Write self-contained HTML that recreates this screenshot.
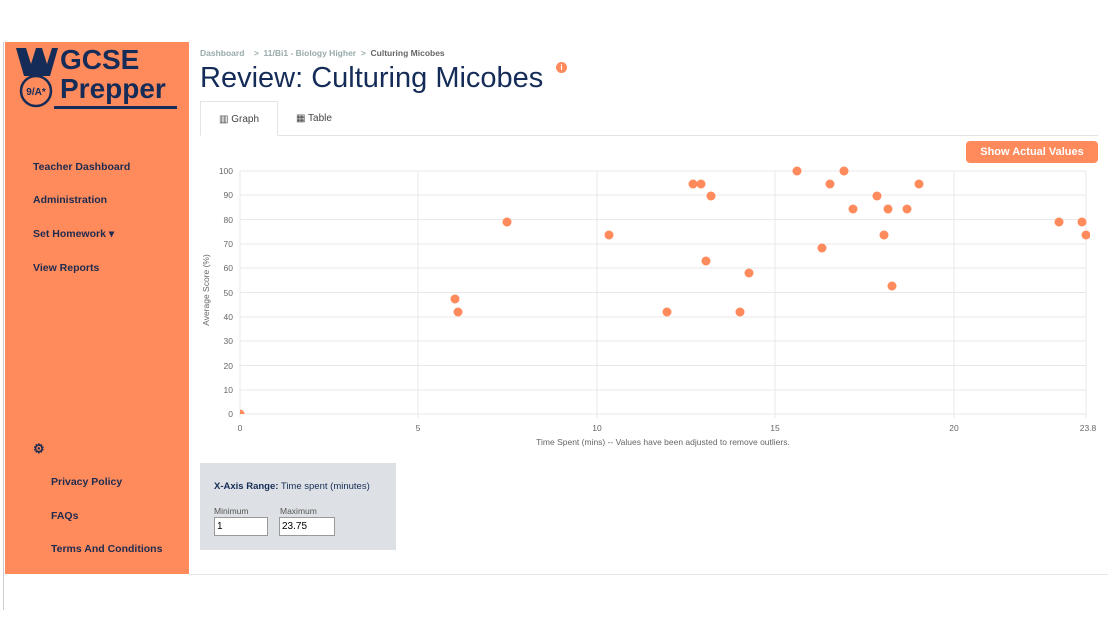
<!DOCTYPE html><html><head><style>
body{margin:0;width:1108px;height:617px;background:#fff;font-family:"Liberation Sans",sans-serif;position:relative;overflow:hidden}
.a{position:absolute}
.side{left:5px;top:42px;width:184px;height:532px;background:#ff8a5b}
.nav{font-size:10.5px;color:#1d2b4f;font-weight:bold}
.navy{color:#142c57}
</style></head><body>
<div class="a" style="left:3px;top:42px;width:1px;height:568px;background:#ccc"></div>
<div class="a side"></div>
<div class="a" style="left:189px;top:574px;width:919px;height:1px;background:#e6e6e6"></div>
<svg class="a" style="left:14px;top:46px" width="45" height="64"><polygon points="2,2 12,2 17,18 22,2 28,2 33,18 38,2 44,2 36,30 10,30" fill="#142c57"/><circle cx="22" cy="45" r="15" fill="none" stroke="#142c57" stroke-width="2.5"/><text x="22" y="49" font-size="10" font-weight="bold" text-anchor="middle" fill="#142c57">9/A*</text></svg>
<div class="a navy" style="left:60px;top:45px;font-size:28px;font-weight:bold;line-height:29px">GCSE<br>Prepper</div>
<div class="a" style="left:54px;top:106px;width:123px;height:3px;background:#142c57"></div>
<div class="a nav" style="left:33px;top:161px">Teacher Dashboard</div>
<div class="a nav" style="left:33px;top:194px">Administration</div>
<div class="a nav" style="left:33px;top:228px">Set Homework ▾</div>
<div class="a nav" style="left:33px;top:262px">View Reports</div>
<div class="a nav" style="left:33px;top:441px;font-size:13px">⚙</div>
<div class="a nav" style="left:51px;top:476px">Privacy Policy</div>
<div class="a nav" style="left:51px;top:510px">FAQs</div>
<div class="a nav" style="left:51px;top:543px">Terms And Conditions</div>
<div class="a" style="left:200px;top:48px;font-size:8.5px;color:#9aa;font-weight:bold">Dashboard &nbsp;&nbsp;&nbsp;&gt; &nbsp;11/Bi1 - Biology Higher &nbsp;&gt; &nbsp;<span style="color:#666">Culturing Micobes</span></div>
<div class="a navy" style="left:200px;top:62px;font-size:29px">Review: Culturing Micobes</div>
<div class="a" style="left:556px;top:62px;width:11px;height:11px;border-radius:50%;background:#ff8a5b;color:#fff;font-size:8px;text-align:center;line-height:11px;font-weight:bold">i</div>
<div class="a" style="left:200px;top:135px;width:898px;height:1px;background:#e3e3e3"></div>
<div class="a" style="left:200px;top:101px;width:78px;height:35px;border:1px solid #e3e3e3;border-bottom:1px solid #fff;background:#fff;box-sizing:border-box;font-size:10px;color:#444;text-align:center;line-height:35px">▥ Graph</div>
<div class="a" style="left:296px;top:113px;font-size:10px;color:#444">▦ Table</div>
<div class="a" style="left:966px;top:141px;width:132px;height:22px;background:#ff8a5b;border-radius:4px;color:#fff;font-size:11px;font-weight:bold;text-align:center;line-height:22px">Show Actual Values</div>
<svg class="a" style="left:195px;top:160px" width="913" height="295" font-size="8.5" fill="#666">
<defs><clipPath id="c"><rect x="45" y="0" width="850" height="254"/></clipPath></defs>
<g stroke="#e8e8e8" stroke-width="1">
<line x1="45" y1="11" x2="891" y2="11"/><line x1="45" y1="35" x2="891" y2="35"/><line x1="45" y1="59.6" x2="891" y2="59.6"/><line x1="45" y1="84" x2="891" y2="84"/><line x1="45" y1="108" x2="891" y2="108"/><line x1="45" y1="132.5" x2="891" y2="132.5"/><line x1="45" y1="157" x2="891" y2="157"/><line x1="45" y1="181" x2="891" y2="181"/><line x1="45" y1="205.5" x2="891" y2="205.5"/><line x1="45" y1="230" x2="891" y2="230"/><line x1="45" y1="254" x2="891" y2="254"/>
<line x1="45" y1="11" x2="45" y2="258"/><line x1="223" y1="11" x2="223" y2="258"/><line x1="402" y1="11" x2="402" y2="258"/><line x1="580" y1="11" x2="580" y2="258"/><line x1="759" y1="11" x2="759" y2="258"/><line x1="891" y1="11" x2="891" y2="258"/>
</g>
<g text-anchor="end"><text x="38" y="14">100</text><text x="38" y="38">90</text><text x="38" y="63">80</text><text x="38" y="87">70</text><text x="38" y="111">60</text><text x="38" y="136">50</text><text x="38" y="160">40</text><text x="38" y="184">30</text><text x="38" y="209">20</text><text x="38" y="233">10</text><text x="38" y="257">0</text></g>
<g text-anchor="middle"><text x="45" y="271">0</text><text x="223" y="271">5</text><text x="402" y="271">10</text><text x="580" y="271">15</text><text x="759" y="271">20</text><text x="893" y="271">23.8</text>
<text x="468" y="285">Time Spent (mins) -- Values have been adjusted to remove outliers.</text>
<text transform="translate(14,130) rotate(-90)">Average Score (%)</text></g>
<g fill="#ff8a5b" clip-path="url(#c)">
<circle cx="45" cy="254" r="4.5"/><circle cx="260" cy="139" r="4.5"/><circle cx="263" cy="152" r="4.5"/><circle cx="312" cy="62" r="4.5"/><circle cx="414" cy="75" r="4.5"/><circle cx="472" cy="152" r="4.5"/><circle cx="498" cy="24" r="4.5"/><circle cx="506" cy="24" r="4.5"/><circle cx="516" cy="36" r="4.5"/><circle cx="511" cy="101" r="4.5"/><circle cx="545" cy="152" r="4.5"/><circle cx="554" cy="113" r="4.5"/><circle cx="602" cy="11" r="4.5"/><circle cx="635" cy="24" r="4.5"/><circle cx="649" cy="11" r="4.5"/><circle cx="627" cy="88" r="4.5"/><circle cx="658" cy="49" r="4.5"/><circle cx="682" cy="36" r="4.5"/><circle cx="689" cy="75" r="4.5"/><circle cx="693" cy="49" r="4.5"/><circle cx="697" cy="126" r="4.5"/><circle cx="712" cy="49" r="4.5"/><circle cx="724" cy="24" r="4.5"/><circle cx="864" cy="62" r="4.5"/><circle cx="887" cy="62" r="4.5"/><circle cx="891" cy="75" r="4.5"/>
</g></svg>
<div class="a" style="left:200px;top:463px;width:196px;height:87px;background:#dde0e4"></div>
<div class="a navy" style="left:214px;top:481px;font-size:9.5px"><b>X-Axis Range:</b> Time spent (minutes)</div>
<div class="a" style="left:214px;top:506px;font-size:8.5px;color:#555">Minimum</div>
<div class="a" style="left:280px;top:506px;font-size:8.5px;color:#555">Maximum</div>
<div class="a" style="left:214px;top:517px;width:54px;height:19px;background:#fff;border:1px solid #999;box-sizing:border-box;font-size:10px;padding:3px 2px">1</div>
<div class="a" style="left:279px;top:517px;width:56px;height:19px;background:#fff;border:1px solid #999;box-sizing:border-box;font-size:10px;padding:3px 2px">23.75</div>
</body></html>
